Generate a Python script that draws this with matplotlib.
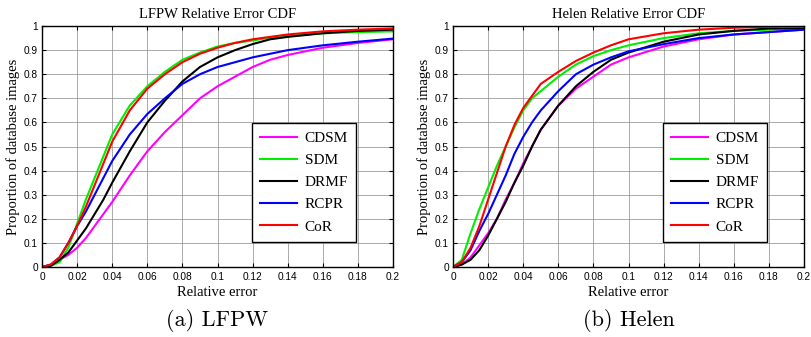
import matplotlib
matplotlib.use("Agg")
from matplotlib import pyplot as plt

# values
lfpw_x = [0, 0.005, 0.01, 0.015, 0.02, 0.025, 0.03, 0.035, 0.04, 0.05, 0.06, 0.07, 0.08,
          0.09, 0.1, 0.11, 0.12, 0.13, 0.14, 0.16, 0.18, 0.2]
lfpw_cdsm = [0, 0.008, 0.03, 0.05, 0.08, 0.12, 0.17, 0.22, 0.27, 0.38, 0.48, 0.56, 0.63,
             0.70, 0.75, 0.79, 0.83, 0.86, 0.88, 0.91, 0.93, 0.945]
lfpw_sdm = [0, 0.005, 0.02, 0.08, 0.18, 0.28, 0.37, 0.46, 0.55, 0.67, 0.75, 0.81, 0.86,
            0.89, 0.915, 0.93, 0.94, 0.952, 0.96, 0.97, 0.975, 0.978]
lfpw_drmf = [0, 0.005, 0.03, 0.06, 0.11, 0.16, 0.22, 0.28, 0.35, 0.48, 0.60, 0.69, 0.77,
             0.83, 0.87, 0.90, 0.925, 0.945, 0.955, 0.97, 0.98, 0.985]
lfpw_rcpr = [0, 0.01, 0.04, 0.10, 0.17, 0.23, 0.30, 0.37, 0.44, 0.55, 0.635, 0.70, 0.76,
             0.80, 0.83, 0.85, 0.87, 0.885, 0.90, 0.92, 0.935, 0.948]
lfpw_cor = [0, 0.01, 0.04, 0.10, 0.17, 0.25, 0.34, 0.43, 0.52, 0.65, 0.74, 0.80, 0.85,
            0.885, 0.91, 0.93, 0.945, 0.955, 0.965, 0.978, 0.985, 0.99]

helen_x = [0, 0.005, 0.01, 0.015, 0.02, 0.025, 0.03, 0.035, 0.04, 0.045, 0.05, 0.06, 0.07,
           0.08, 0.09, 0.1, 0.12, 0.14, 0.16, 0.18, 0.2]
helen_cdsm = [0, 0.01, 0.04, 0.09, 0.14, 0.20, 0.28, 0.35, 0.43, 0.50, 0.57, 0.67, 0.74,
              0.79, 0.84, 0.87, 0.915, 0.945, 0.965, 0.975, 0.985]
helen_sdm = [0, 0.03, 0.14, 0.24, 0.33, 0.42, 0.50, 0.58, 0.65, 0.70, 0.73, 0.79, 0.84,
             0.875, 0.90, 0.92, 0.95, 0.97, 0.98, 0.985, 0.99]
helen_drmf = [0, 0.01, 0.03, 0.07, 0.13, 0.20, 0.27, 0.35, 0.42, 0.50, 0.57, 0.67, 0.75,
              0.81, 0.86, 0.89, 0.935, 0.965, 0.98, 0.99, 0.99]
helen_rcpr = [0, 0.02, 0.07, 0.15, 0.22, 0.30, 0.38, 0.47, 0.54, 0.60, 0.65, 0.73, 0.80,
              0.84, 0.87, 0.895, 0.925, 0.95, 0.965, 0.975, 0.985]
helen_cor = [0, 0.02, 0.08, 0.17, 0.28, 0.39, 0.50, 0.59, 0.66, 0.71, 0.76, 0.81, 0.855,
             0.89, 0.92, 0.945, 0.97, 0.985, 0.993, 0.997, 1.0]

names = ["CDSM", "SDM", "DRMF", "RCPR", "CoR"]
colors = ["#ff00ff", "#00ee00", "#000000", "#0000ff", "#ff0000"]

fig = plt.figure(figsize=(8.11, 3.37), dpi=100)
ax1 = fig.add_axes([0.0518, 0.2077, 0.4328, 0.715])
ax2 = fig.add_axes([0.5586, 0.2077, 0.4328, 0.715])

panels = [
    (ax1, lfpw_x, [lfpw_cdsm, lfpw_sdm, lfpw_drmf, lfpw_rcpr, lfpw_cor],
     "LFPW Relative Error CDF", "(a) LFPW"),
    (ax2, helen_x, [helen_cdsm, helen_sdm, helen_drmf, helen_rcpr, helen_cor],
     "Helen Relative Error CDF", "(b) Helen"),
]

for ax, x, ys, title, caption in panels:
    for y, name, c in zip(ys, names, colors):
        ax.plot(x, y, color=c, lw=1.5, label=name)
    ax.set_xlim(0, 0.2)
    ax.set_ylim(0, 1)
    ax.set_xticks([i * 0.02 for i in range(11)])
    ax.set_xticklabels(["0", "0.02", "0.04", "0.06", "0.08", "0.1", "0.12", "0.14",
                        "0.16", "0.18", "0.2"])
    ax.set_yticks([i * 0.1 for i in range(11)])
    ax.set_yticklabels(["0", "0.1", "0.2", "0.3", "0.4", "0.5", "0.6", "0.7", "0.8",
                        "0.9", "1"])
    ax.grid(True, color="#888888", lw=0.5, ls="-")
    ax.tick_params(axis="x", direction="in", top=True, length=3, width=0.8,
                   labelsize=7.3, pad=3.5)
    ax.tick_params(axis="y", direction="in", right=True, length=3, width=0.8,
                   labelsize=7.3, pad=3)
    for lab in ax.get_xticklabels() + ax.get_yticklabels():
        lab.set_family("Liberation Sans")
    for s in ax.spines.values():
        s.set_linewidth(1.0)
    ax.set_title(title, fontsize=10.5, family="Liberation Serif", pad=6)
    ax.set_xlabel("Relative error", fontsize=10.5, family="Liberation Serif", labelpad=3)
    ax.set_ylabel("Proportion of database images", fontsize=10.5,
                  family="Liberation Serif", labelpad=3)
    leg = ax.legend(loc="lower left", bbox_to_anchor=(0.598, 0.104), fancybox=False,
                    edgecolor="black", framealpha=1, handlelength=2.4,
                    prop={"family": "Liberation Serif", "size": 11},
                    borderpad=0.55, labelspacing=0.55, handletextpad=0.5,
                    borderaxespad=0)
    leg.get_frame().set_linewidth(1.0)
    ax.text(0.5, -0.22, caption, transform=ax.transAxes, ha="center", va="center",
            fontsize=16, family="cmr10")

fig.savefig("out.png", dpi=100)
